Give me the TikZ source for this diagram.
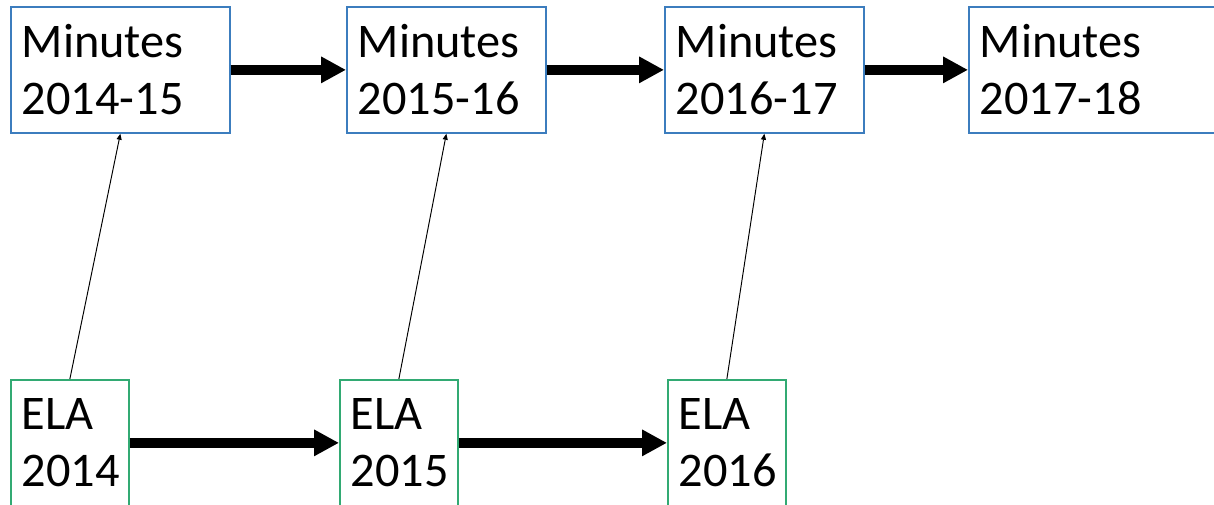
\documentclass[tikz,border=0pt]{standalone}
\usepackage{fontspec}
\setmainfont{Carlito}
\usetikzlibrary{arrows.meta}
\definecolor{mblue}{RGB}{60,125,190}
\definecolor{egreen}{RGB}{50,170,115}

\begin{document}
\begin{tikzpicture}[x=0.02cm,y=-0.02cm,inner sep=0pt]
  \useasboundingbox(0,0)rectangle(1214,504);
  \tikzstyle{mn}=[rectangle,draw=mblue,line width=1pt,anchor=north west,align=left,inner xsep=0.22cm,minimum height=2.52cm,font=\fontsize{27.5pt}{32.5pt}\selectfont]
  \tikzstyle{ela}=[mn,draw=egreen]
  \node[mn,text width=3.94cm](m1415)at(10,6){Minutes\\2014-15};
  \node[mn,text width=3.54cm](m1516)at(346,6){Minutes\\2015-16};
  \node[mn,text width=3.54cm](m1617)at(664,6){Minutes\\2016-17};
  \node[mn,text width=4.8cm](m1718)at(968,6){Minutes\\2017-18};
  \node[ela,text width=1.92cm](ela14)at(10,379){ELA\\2014};
  \node[ela,text width=1.92cm](ela15)at(339,379){ELA\\2015};
  \node[ela,text width=1.92cm](ela16)at(667,379){ELA\\2016};
  \tikzstyle{e}=[-{Triangle[length=0.5cm,width=0.5cm]},line width=0.2cm]
  \tikzstyle{lnk}=[-{Triangle[length=0.12cm,width=0.1cm]},line width=0.55pt]
  \foreach\o/\d in{m1415/m1516,m1516/m1617,m1617/m1718,ela14/ela15,ela15/ela16}{\draw[e](\o.east)--(\d.west);}
  \foreach\o/\d in{ela14/m1415,ela15/m1516,ela16/m1617}{\draw[lnk](\o.north)--(\d.south);}
\end{tikzpicture}
\end{document}
